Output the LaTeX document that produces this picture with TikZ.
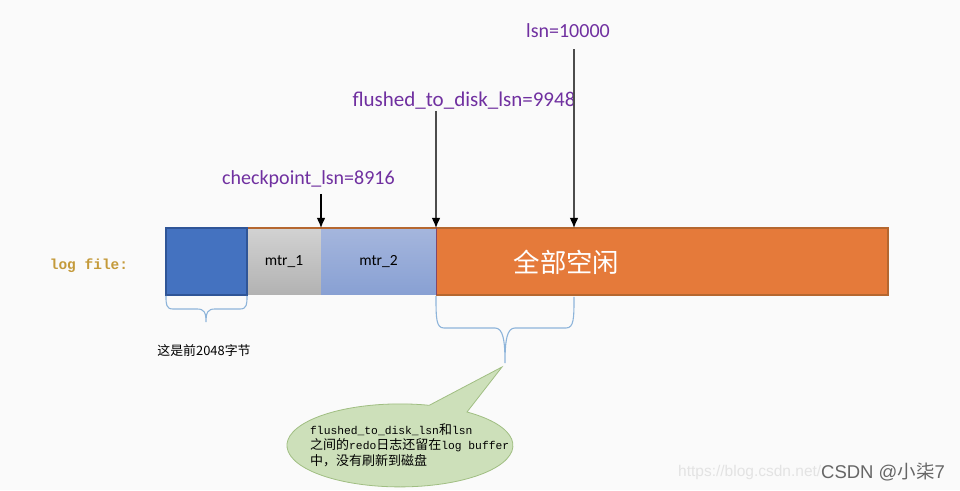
\documentclass[tikz,border=0pt]{standalone}
\usepackage{fontspec}
\setmainfont{Carlito}
\newfontfamily\cjkfont{Noto Sans CJK SC}
\newfontfamily\monofont{Liberation Mono}
\newfontfamily\wmfont{Liberation Sans}
\usetikzlibrary{calc,arrows.meta,positioning}
\definecolor{pagebg}{HTML}{FAFAFA}
\definecolor{lsnpurple}{HTML}{7030A0}
\definecolor{bracecol}{HTML}{8DB4DA}
\definecolor{cellline}{HTML}{B5672F}
\definecolor{mtrtop}{HTML}{A5B6DD}
\definecolor{mtrbot}{HTML}{88A0D3}
\definecolor{greytop}{HTML}{D2D2D2}
\definecolor{greybot}{HTML}{B2B2B2}

\begin{document}
\begin{tikzpicture}[x=1pt,y=1pt,
    cell/.style={minimum height=67pt,inner sep=0pt,outer sep=0pt,anchor=north west},
    lsnlabel/.style={text=lsnpurple,inner sep=0pt,font=\fontsize{20}{22}\selectfont},
    pointer/.style={draw=black!70,line width=1.1pt,-{Latex[length=10pt,width=8.5pt,color=black]}},
    brace/.style={draw=bracecol,line width=1.1pt},
    mixed/.style={inner sep=0pt,align=left,font=\fontsize{11.3}{15.5}\selectfont\monofont}]

  %% page
  \fill[pagebg] (0,0) rectangle (960,490);
  \useasboundingbox (0,0) rectangle (960,490);

  %% the cells of the file
  \node[cell,minimum width=81pt] (first) at (166,262) {};
  \node[cell,minimum width=74pt,right=0pt of first,anchor=west,top color=greytop,bottom color=greybot] (mtr1) {\fontsize{15.5}{17}\selectfont mtr\_1};
  \node[cell,minimum width=115pt,right=0pt of mtr1,anchor=west,top color=mtrtop,bottom color=mtrbot] (mtr2) {\fontsize{15.5}{17}\selectfont mtr\_2};
  \node[cell,minimum width=452pt,right=0pt of mtr2,anchor=west,fill={rgb,255:red,229;green,122;blue,58}] (free) {};
  \draw[cellline,line width=1.2pt] (mtr1.north west) -- (free.north east) -- (free.south east) -- (free.south west);
  \draw[cellline!70!blue,line width=.8pt] (free.north west) -- (free.south west);
  \draw[draw={rgb,255:red,47;green,85;blue,151},fill={rgb,255:red,68;green,114;blue,192},line width=1.2pt]
    (first.north west) rectangle (first.south east);
  \node[text=white,inner sep=0pt,font=\fontsize{26.4}{28}\selectfont\cjkfont] (freetext) at (566.5,228) {全部空闲};

  \node[inner sep=0pt,text={rgb,255:red,196;green,154;blue,58},font=\fontsize{14.5}{16}\selectfont\monofont\bfseries] (filelabel) at (89,224) {log file:};

  %% names above
  \node[lsnlabel] (cplabel) at (308.5,311) {checkpoint\_lsn=8916};
  \node[lsnlabel,font=\fontsize{21}{23}\selectfont] (flushlabel) at (464,389) {flushed\_to\_disk\_lsn=9948};
  \node[lsnlabel] (lsnlabel) at (568,459) {lsn=10000};
  \coordinate (lsntip) at (574,262);

  \draw[pointer,draw=black,shorten <=6pt] (cplabel.south -| mtr2.north west) -- (mtr2.north west);
  \draw[pointer,shorten <=1pt] (flushlabel.south -| free.north west) -- (free.north west);
  \draw[pointer,shorten <=11pt] (lsnlabel.south -| lsntip) -- (lsntip);

  %% braces
  \coordinate (lbrace) at (206,168);
  \draw[brace] (first.south west) ++(0,-1) .. controls (166,186) and (166,181) .. (173,181)
    -- (197,181) .. controls (204,181) and (206,178) .. (lbrace)
    .. controls (206,178) and (208,181) .. (215,181) -- (240,181)
    .. controls (247,181) and (247,186) .. ($(first.south east)+(0,-1)$);
  \coordinate (rbrace) at (505,127);
  \draw[brace] (free.south west) ++(0,-1) .. controls (436,172) and (436,162) .. (444,162)
    -- (495,162) .. controls (503,162) and (505,150) .. (rbrace)
    .. controls (505,150) and (507,162) .. (515,162) -- (566,162)
    .. controls (574,162) and (574,172) .. (574,193);

  \node[inner sep=0pt,font=\fontsize{12.9}{14}\selectfont\cjkfont] (firstnote) at (204,139) {这是前2048字节};

  %% bubble
  \coordinate (bubbletip) at (502,123);
  \draw[draw={rgb,255:red,160;green,190;blue,130},fill={rgb,255:red,205;green,224;blue,186},line width=.8pt]
    (bubbletip) -- (467,78) arc[start angle=53.6,end angle=-285,x radius=113pt,y radius=41.5pt] -- cycle;
  \node[mixed,anchor=west] (bubbletext) at (310,45)
    {flushed\_to\_disk\_lsn{\fontsize{13}{15.5}\selectfont\cjkfont 和}lsn\\
     {\fontsize{13}{15.5}\selectfont\cjkfont 之间的}redo{\fontsize{13}{15.5}\selectfont\cjkfont 日志还留在}log buffer\\
     {\fontsize{13}{15.5}\selectfont\cjkfont 中，没有刷新到磁盘}};

  %% watermark
  \node[inner sep=0pt,anchor=west,text=black!11,font=\fontsize{15.5}{17}\selectfont\wmfont] (wmurl) at (678,18) {https://blog.csdn.net/};
  \node[inner sep=0pt,anchor=east,text=black!60,font=\fontsize{18.5}{20}\selectfont\wmfont] (wmname) at (945,18) {CSDN @{\cjkfont 小柒}7};
\end{tikzpicture}
\end{document}
